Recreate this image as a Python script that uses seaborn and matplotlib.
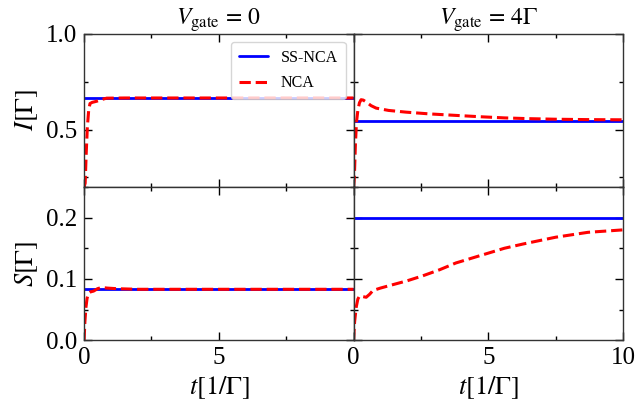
import numpy as np
import pandas as pd
import matplotlib
matplotlib.use("Agg")
import matplotlib.pyplot as plt
from matplotlib.ticker import MultipleLocator, FormatStrFormatter
import seaborn as sns

sns.set_style("ticks")
plt.rcParams['font.family'] = ['Liberation Serif', 'DejaVu Serif']
plt.rcParams['mathtext.fontset'] = 'stix'
plt.rcParams['text.color'] = 'black'
plt.rcParams['axes.labelcolor'] = 'black'
plt.rcParams['xtick.color'] = 'black'
plt.rcParams['ytick.color'] = 'black'

# steady state values (SS-NCA)
ss_t = [0, 10]
ss_I_v0 = [0.665, 0.665]
ss_I_v4 = [0.547, 0.547]
ss_S_v0 = [0.083, 0.083]
ss_S_v4 = [0.200, 0.200]

# time dependent NCA
nca_t_I0 = [0.0, 0.04, 0.08, 0.12, 0.17, 0.22, 0.3, 0.47, 0.65, 0.84, 1.5, 3, 5, 7.5, 10]
nca_I_v0 = [0.2, 0.22, 0.38, 0.51, 0.60, 0.636, 0.642, 0.648, 0.657, 0.664, 0.665, 0.665, 0.665, 0.665, 0.665]

nca_t_I4 = [0.0, 0.03, 0.07, 0.11, 0.16, 0.22, 0.28, 0.36, 0.47, 0.65, 0.84, 1.3, 1.95, 2.8, 3.8, 4.7, 5.6, 6.5, 7.5, 8.7, 10]
nca_I_v4 = [0.2, 0.25, 0.425, 0.54, 0.60, 0.64, 0.656, 0.654, 0.644, 0.625, 0.612, 0.600, 0.591, 0.582, 0.574, 0.567, 0.561, 0.557, 0.554, 0.552, 0.551]

nca_t_S0 = [0.0, 0.03, 0.07, 0.11, 0.16, 0.25, 0.35, 0.5, 0.65, 0.85, 1.2, 2, 5, 10]
nca_S_v0 = [0.0, 0.03, 0.054, 0.068, 0.076, 0.079, 0.080, 0.084, 0.086, 0.085, 0.084, 0.083, 0.083, 0.083]

nca_t_S4 = [0.0, 0.04, 0.1, 0.16, 0.22, 0.35, 0.47, 0.6, 0.72, 1.0, 1.33, 2.0, 2.57, 3.2, 3.8, 4.4, 5.0, 5.6, 6.3, 7.5, 8.7, 10]
nca_S_v4 = [0.0, 0.03, 0.054, 0.067, 0.072, 0.071, 0.070, 0.075, 0.081, 0.085, 0.089, 0.097, 0.105, 0.115, 0.126, 0.134, 0.142, 0.150, 0.157, 0.168, 0.176, 0.180]

titles = [r'$V_{\rm gate}\,=\,0$', r'$V_{\rm gate}\,=\,4\Gamma$']

fig, axes = plt.subplots(2, 2, figsize=(6.37, 4.03), dpi=100)
fig.subplots_adjust(left=0.132, right=0.978, top=0.916, bottom=0.156, hspace=0, wspace=0)

panels = [
    (axes[0, 0], ss_I_v0, nca_t_I0, nca_I_v0),
    (axes[0, 1], ss_I_v4, nca_t_I4, nca_I_v4),
    (axes[1, 0], ss_S_v0, nca_t_S0, nca_S_v0),
    (axes[1, 1], ss_S_v4, nca_t_S4, nca_S_v4),
]

for ax, ss, tn, yn in panels:
    sns.lineplot(x=ss_t, y=ss, ax=ax, color='blue', lw=2, label='SS-NCA')
    sns.lineplot(x=tn, y=yn, ax=ax, color='red', lw=2.2, ls='--', label='NCA')
    ax.set_xlim(0, 10)
    ax.xaxis.set_major_locator(MultipleLocator(5))
    ax.xaxis.set_minor_locator(MultipleLocator(2.5))
    ax.tick_params(which='both', direction='in', top=True, right=True, labelsize=18)
    ax.tick_params(which='major', length=6, width=1, pad=5)
    ax.tick_params(which='minor', length=3, width=1)
    for s in ax.spines.values():
        s.set_linewidth(1)
        s.set_color('#333333')
    if ax.get_legend() is not None:
        ax.get_legend().remove()

for ax in axes[0]:
    ax.set_ylim(0.2, 1.0)
    ax.yaxis.set_major_locator(MultipleLocator(0.5))
    ax.yaxis.set_minor_locator(MultipleLocator(0.25))
    ax.tick_params(labelbottom=False)
for ax in axes[1]:
    ax.set_ylim(0.0, 0.25)
    ax.yaxis.set_major_locator(MultipleLocator(0.1))
    ax.yaxis.set_minor_locator(MultipleLocator(0.05))
    ax.set_xlabel(r'$t[1/\Gamma]$', fontsize=19)
for ax in axes[:, 1]:
    ax.tick_params(labelleft=False)
    ax.set_ylabel('')
for ax in axes[:, 0]:
    ax.yaxis.set_major_formatter(FormatStrFormatter('%.1f'))

axes[1, 0].set_xticks([0, 5, 10])
axes[1, 0].set_xticklabels(['0', '5', ''])

axes[0, 0].set_ylabel(r'$I[\Gamma]$', fontsize=19)
axes[1, 0].set_ylabel(r'$S[\Gamma]$', fontsize=19)
axes[0, 0].set_title(titles[0], fontsize=17, pad=3)
axes[0, 1].set_title(titles[1], fontsize=17, pad=3)

axes[0, 0].legend(loc='upper right', fontsize=11.5, frameon=True, fancybox=True,
                  handlelength=1.8, borderpad=0.5, labelspacing=0.6)

fig.savefig('out.png', dpi=100)
